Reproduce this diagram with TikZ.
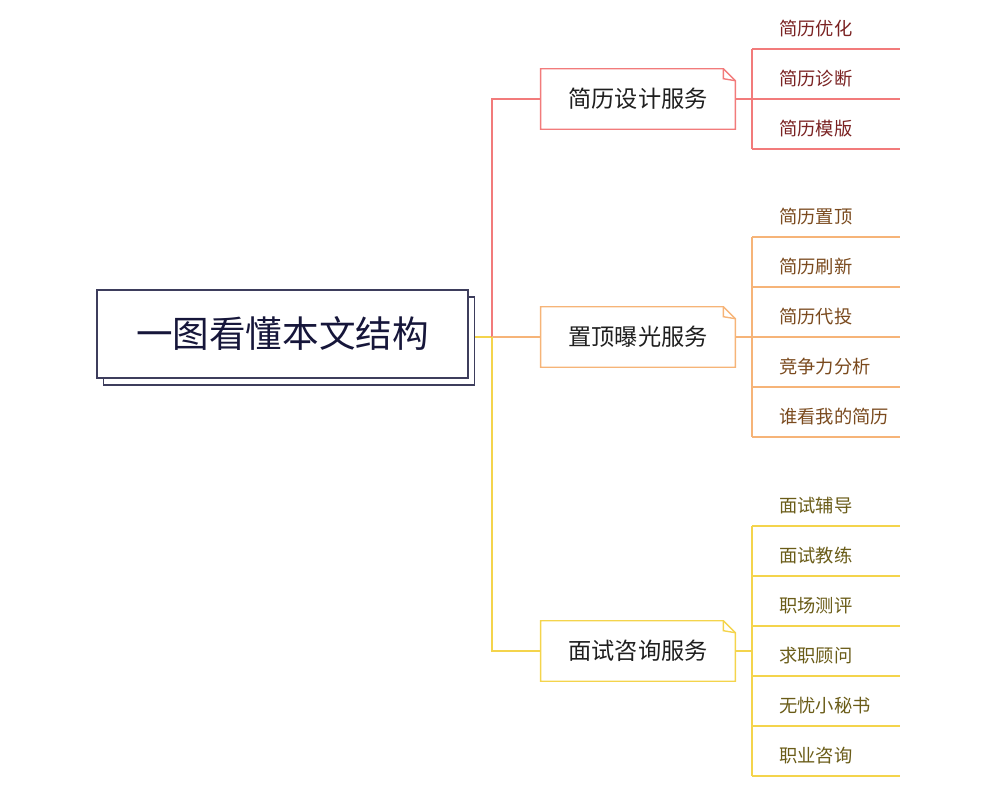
\documentclass[tikz,border=0pt]{standalone}
\usepackage{fontspec}
\setmainfont{Noto Sans CJK SC}
\usepackage{tikz}
\usetikzlibrary{positioning, calc, shadows}

\definecolor{rootline}{HTML}{3D3D5C}
\definecolor{roottext}{HTML}{16163A}
\definecolor{redline}{HTML}{F27B7B}
\definecolor{redtext}{HTML}{7A2222}
\definecolor{orangeline}{HTML}{F6B478}
\definecolor{orangetext}{HTML}{7A4A1E}
\definecolor{yellowline}{HTML}{F4D44C}
\definecolor{yellowtext}{HTML}{6A5C18}

% outline of a branch box with a folded top-right corner
\newcommand{\foldframe}[2]{%
  \draw[#2, link] (#1.north west) -- ($(#1.north east)+(-12,0)$) -- ($(#1.north east)+(0,12)$) -- (#1.south east) -- (#1.south west) -- cycle;
  \draw[#2, link] ($(#1.north east)+(-12,0)$) -- ($(#1.north east)+(-12,10)$) -- ($(#1.north east)+(0,12)$);
}

\begin{document}
\begin{tikzpicture}[x=0.025cm, y=-0.025cm,
    rootbox/.style={draw=rootline, line width=1.2pt, fill=white, minimum width=9.275cm, minimum height=2.2cm,
      text=roottext, font=\fontsize{26}{30}\selectfont,
      general shadow={shadow xshift=0.16cm, shadow yshift=-0.17cm, draw=rootline, line width=1.2pt, fill=white}},
    branchbox/.style={minimum width=4.85cm, minimum height=1.5cm, font=\fontsize{16.5}{20}\selectfont, text=black!88},
    leaf/.style={anchor=west, font=\fontsize{13}{16}\selectfont, inner sep=0pt},
    link/.style={line width=1pt}]
  \useasboundingbox (0,0) rectangle (994,800);

  % Hub on the spine
  \coordinate (hub) at (492,337);
  \coordinate (rootout) at (475,337);

  % Branch boxes
  \node[branchbox] (design) at (638,99) {简历设计服务};
  \node[branchbox] (expo) at (638,337) {置顶曝光服务};
  \node[branchbox] (inter) at (638,651) {面试咨询服务};
  \foldframe{design}{redline}
  \foldframe{expo}{orangeline}
  \foldframe{inter}{yellowline}

  % Spine
  \draw[yellowline, link] (rootout) -- (hub);
  \draw[redline, link] (hub) -- (hub |- design.west) -- (design.west);
  \draw[orangeline, link] (hub) -- (expo.west);
  \draw[yellowline, link] (hub) -- (hub |- inter.west) -- (inter.west);

  % Leaves of the design branch
  \foreach \txt [count=\i] in {简历优化,简历诊断,简历模版} {
    \coordinate (d-\i) at (752, {49+50*(\i-1)});
    \coordinate (d-\i-end) at (900, {49+50*(\i-1)});
    \node[leaf, text=redtext] (d-\i-txt) at (779, {29+50*(\i-1)}) {\txt};
    \draw[redline, link] (d-\i) -- (d-\i-end);
  }
  \draw[redline, link] (d-1) -- (d-3);
  \draw[redline, link] (design.east) -- (design.east -| d-1);

  % Leaves of the exposure branch
  \foreach \txt [count=\i] in {简历置顶,简历刷新,简历代投,竞争力分析,谁看我的简历} {
    \coordinate (e-\i) at (752, {237+50*(\i-1)});
    \coordinate (e-\i-end) at (900, {237+50*(\i-1)});
    \node[leaf, text=orangetext] (e-\i-txt) at (779, {217+50*(\i-1)}) {\txt};
    \draw[orangeline, link] (e-\i) -- (e-\i-end);
  }
  \draw[orangeline, link] (e-1) -- (e-5);
  \draw[orangeline, link] (expo.east) -- (expo.east -| e-1);

  % Leaves of the interview branch
  \foreach \txt [count=\i] in {面试辅导,面试教练,职场测评,求职顾问,无忧小秘书,职业咨询} {
    \coordinate (i-\i) at (752, {526+50*(\i-1)});
    \coordinate (i-\i-end) at (900, {526+50*(\i-1)});
    \node[leaf, text=yellowtext] (i-\i-txt) at (779, {506+50*(\i-1)}) {\txt};
    \draw[yellowline, link] (i-\i) -- (i-\i-end);
  }
  \draw[yellowline, link] (i-1) -- (i-6);
  \draw[yellowline, link] (inter.east) -- (inter.east -| i-1);

  % Root
  \node[rootbox] (root) at (282.5,334) {一图看懂本文结构};
\end{tikzpicture}
\end{document}
